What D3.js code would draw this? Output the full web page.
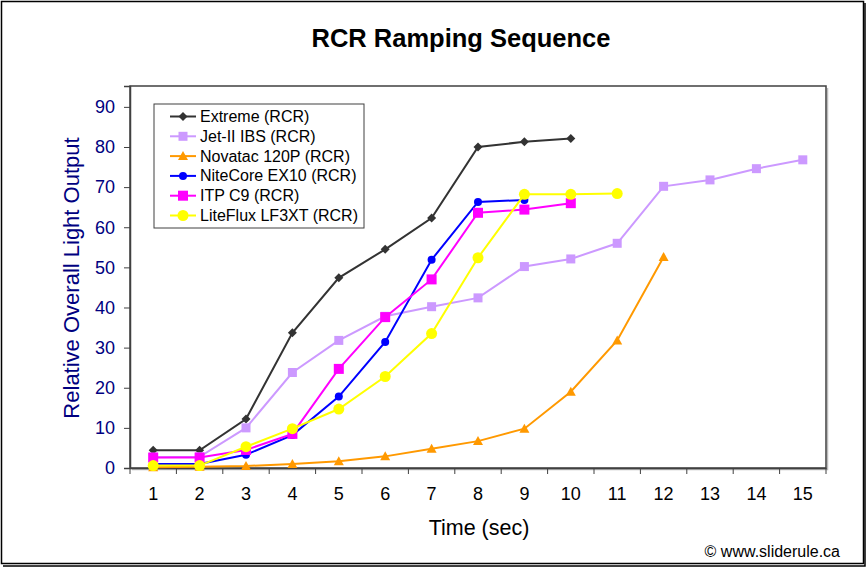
<!DOCTYPE html>
<html><head><meta charset="utf-8">
<script src="https://cdn.jsdelivr.net/npm/d3@7"></script>
<style>body{margin:0;background:#fff;font-family:Arial,"Liberation Sans",sans-serif}</style>
</head><body><svg id="c" width="868" height="568"></svg>
<script>
const categories = [1,2,3,4,5,6,7,8,9,10,11,12,13,14,15];
const yTicks = [0,10,20,30,40,50,60,70,80,90];
const extreme  = [4.4,4.4,12.2,33.7,47.4,54.5,62.3,80.0,81.3,82.1];
const jet2     = [2.7,2.8,10.0,23.8,31.8,37.8,40.2,42.4,50.2,52.1,56.0,70.2,71.8,74.6,76.8];
const novatac  = [0.2,0.3,0.5,1.0,1.7,2.9,4.8,6.7,9.8,19.0,31.8,52.6];
const nitecore = [1.0,1.0,3.3,8.2,17.8,31.4,51.9,66.3,66.8];
const itpc9    = [2.6,2.6,4.5,8.5,24.7,37.6,47.0,63.6,64.4,66.0];
const liteflux = [0.6,0.6,5.3,9.8,14.7,22.8,33.5,52.4,68.2,68.2,68.4];
const seriesNames = ["Extreme (RCR)","Jet-II IBS (RCR)","Novatac 120P (RCR)","NiteCore EX10 (RCR)","ITP C9 (RCR)","LiteFlux LF3XT (RCR)"];

const series = [
  {name:seriesNames[0], values:extreme,  color:"#333333", marker:"diamond", size:4.5},
  {name:seriesNames[1], values:jet2,     color:"#CC99FF", marker:"square", size:4.5},
  {name:seriesNames[2], values:novatac,  color:"#FF9900", marker:"triangle", size:5},
  {name:seriesNames[3], values:nitecore, color:"#0000FF", marker:"circle", size:4},
  {name:seriesNames[4], values:itpc9,    color:"#FF00FF", marker:"square", size:5},
  {name:seriesNames[5], values:liteflux, color:"#FFFF00", marker:"circle", size:5.5}
];

const svg = d3.select("#c");
const L=130, R=826, T=86, B=468;
// outer border
svg.append("rect").attr("x",1.5).attr("y",1.5).attr("width",862).attr("height",562)
  .attr("fill","#fff").attr("stroke","#000").attr("stroke-width",1.5);
svg.append("path").attr("d","M865,3 V566 H3").attr("fill","none").attr("stroke","#000").attr("stroke-width",1.5);

const x = d3.scaleBand().domain(categories).range([L,R]);
const y = d3.scaleLinear().domain([0,95.2]).range([B,T]);

// plot area border (shadow)
svg.append("path").attr("d",`M${R+1.5},${T+2} V${B+1.5} H${L+2}`).attr("fill","none").attr("stroke","#bbb").attr("stroke-width",1.5);
svg.append("rect").attr("x",L).attr("y",T).attr("width",R-L).attr("height",B-T)
  .attr("fill","#fff").attr("stroke","#404040").attr("stroke-width",1.5);

// title
svg.append("text").attr("x",461).attr("y",47).attr("text-anchor","middle")
  .attr("font-size",25.5).attr("font-weight","bold").attr("fill","#000").text("RCR Ramping Sequence");

// y axis
const yAxis = d3.axisLeft(y).tickValues(yTicks).tickSize(6).tickPadding(9);
const gy = svg.append("g").attr("transform",`translate(${L},0)`).call(yAxis);
gy.select(".domain").attr("stroke","#404040").attr("stroke-width",1.5);
gy.selectAll(".tick line").attr("stroke","#404040");
gy.selectAll(".tick text").attr("font-size",18).attr("fill","#000080").attr("font-family","Arial,'Liberation Sans',sans-serif");

// x axis with ticks between categories
const xAxis = d3.axisBottom(x).tickSize(0).tickPadding(19);
const gx = svg.append("g").attr("transform",`translate(0,${B})`).call(xAxis);
gx.select(".domain").attr("stroke","#404040").attr("stroke-width",1.5);
gx.selectAll(".tick text").attr("font-size",18).attr("fill","#000").attr("font-family","Arial,'Liberation Sans',sans-serif");
const bounds = categories.map(c=>x(c)).concat([x(categories[categories.length-1])+x.bandwidth()]);
svg.append("g").selectAll("line").data(bounds).join("line")
  .attr("x1",d=>d).attr("x2",d=>d).attr("y1",B).attr("y2",B+6).attr("stroke","#404040");

// axis titles
svg.append("text").attr("transform",`translate(79,278) rotate(-90)`).attr("text-anchor","middle")
  .attr("font-size",22).attr("fill","#000080").text("Relative Overall Light Output");
svg.append("text").attr("x",479).attr("y",535).attr("text-anchor","middle")
  .attr("font-size",21.5).attr("fill","#000").text("Time (sec)");
svg.append("text").attr("x",840).attr("y",557).attr("text-anchor","end")
  .attr("font-size",16).attr("fill","#000").text("© www.sliderule.ca");

const cx = i => x(categories[i]) + x.bandwidth()/2;
const line = d3.line().x((d,i)=>cx(i)).y(d=>y(d));

function marker(g, type, s, color){
  if(type==="diamond") g.append("path").attr("d",`M0,${-s} L${s},0 L0,${s} L${-s},0Z`).attr("fill",color);
  else if(type==="square") g.append("rect").attr("x",-s).attr("y",-s).attr("width",2*s).attr("height",2*s).attr("fill",color);
  else if(type==="triangle") g.append("path").attr("d",`M0,${-s} L${s},${s*0.8} L${-s},${s*0.8}Z`).attr("fill",color);
  else g.append("circle").attr("r",s).attr("fill",color);
}

series.forEach(s=>{
  svg.append("path").datum(s.values).attr("d",line).attr("fill","none")
    .attr("stroke",s.color).attr("stroke-width",2);
  s.values.forEach((v,i)=>{
    const g = svg.append("g").attr("transform",`translate(${cx(i)},${y(v)})`);
    marker(g,s.marker,s.size,s.color);
  });
});

// legend
const lg = svg.append("g");
lg.append("rect").attr("x",154).attr("y",104).attr("width",210).attr("height",124)
  .attr("fill","#fff").attr("stroke","#404040").attr("stroke-width",1);
series.forEach((s,i)=>{
  const yy = 116.5 + i*19.8;
  lg.append("line").attr("x1",170).attr("x2",196).attr("y1",yy).attr("y2",yy).attr("stroke",s.color).attr("stroke-width",2);
  const g = lg.append("g").attr("transform",`translate(183,${yy})`);
  marker(g,s.marker,s.size,s.color);
  lg.append("text").attr("x",200).attr("y",yy+5.5).attr("font-size",16).attr("fill","#000").text(s.name);
});
</script></body></html>
